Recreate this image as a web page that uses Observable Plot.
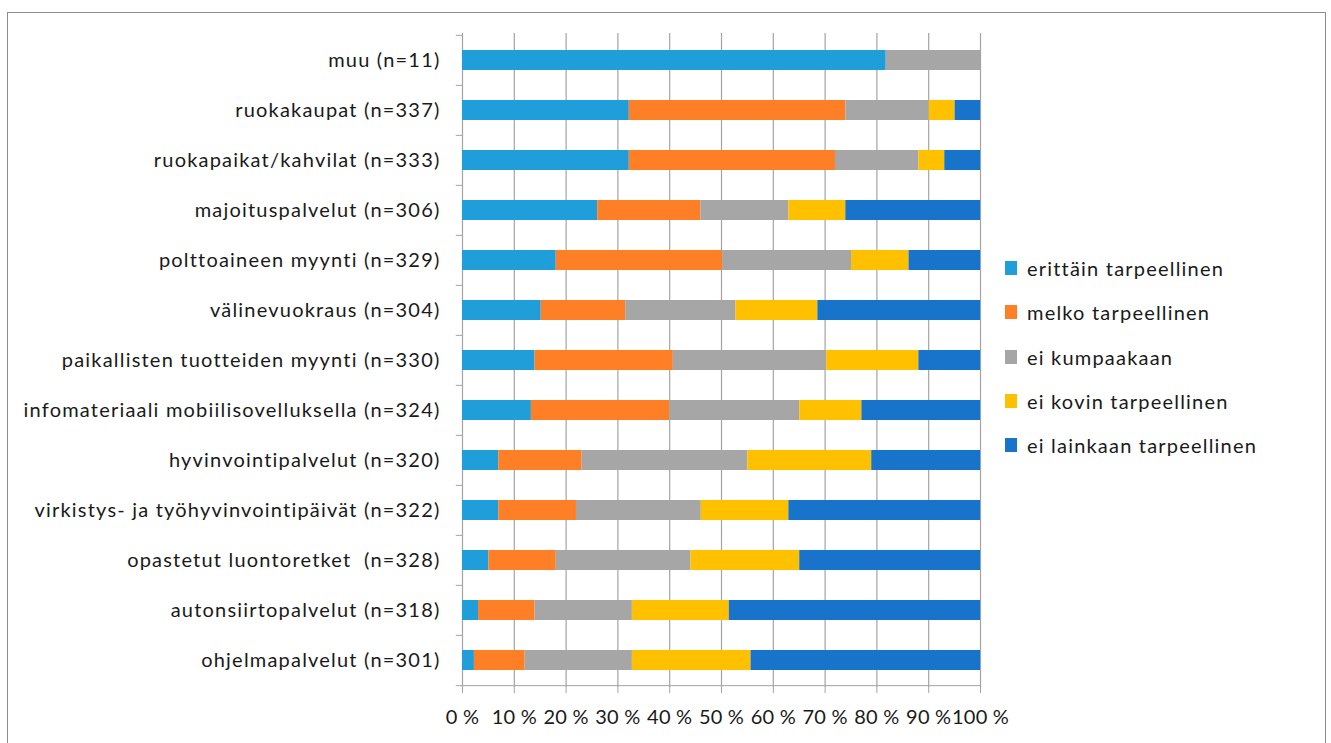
<!DOCTYPE html>
<html>
<head>
<meta charset="utf-8">
<script src="https://cdn.jsdelivr.net/npm/d3@7"></script>
<script src="https://cdn.jsdelivr.net/npm/@observablehq/plot@0.6"></script>
<style>
  html, body { margin: 0; padding: 0; background: #fff; }
  body { width: 1331px; height: 743px; position: relative; overflow: hidden; font-family: Lato, "Open Sans", sans-serif; }
  #frame { position: absolute; left: 7px; top: 12px; width: 1319px; height: 760px; border: 1px solid #8c8c8c; box-sizing: border-box; }
  #chart { position: absolute; left: 0; top: 0; }
  #chart svg { letter-spacing: 1.2px; }
  #chart g[aria-label="x-axis tick label"] { letter-spacing: 0.2px; }
  #legend { position: absolute; left: 1005px; top: 246px; font-size: 20px; letter-spacing: 1.2px; color: #1a1a1a; }
  #legend .item { display: flex; align-items: center; height: 44.3px; }
  #legend .sw { width: 12px; height: 14px; margin-right: 10px; }
</style>
</head>
<body>
<div id="frame"></div>
<div id="chart"></div>
<div id="legend"></div>
<script>
const categories = [
  "muu (n=11)",
  "ruokakaupat (n=337)",
  "ruokapaikat/kahvilat (n=333)",
  "majoituspalvelut (n=306)",
  "polttoaineen myynti (n=329)",
  "välinevuokraus (n=304)",
  "paikallisten tuotteiden myynti (n=330)",
  "infomateriaali mobiilisovelluksella (n=324)",
  "hyvinvointipalvelut (n=320)",
  "virkistys- ja työhyvinvointipäivät (n=322)",
  "opastetut luontoretket  (n=328)",
  "autonsiirtopalvelut (n=318)",
  "ohjelmapalvelut (n=301)"
];
const responses = [
  "erittäin tarpeellinen",
  "melko tarpeellinen",
  "ei kumpaakaan",
  "ei kovin tarpeellinen",
  "ei lainkaan tarpeellinen"
];
const colors = ["#1F9ED9", "#FE7F26", "#A6A6A6", "#FFC000", "#1874CA"];
// percentages per category, in order of responses
const erittain = [81.8, 32.2, 32.2, 26.1, 18.1, 15.2, 14.0, 13.3, 7.0, 7.0, 5.1, 3.1, 2.3];
const melko    = [0,    41.8, 39.8, 19.9, 32.1, 16.3, 26.7, 26.7, 16.1, 15.0, 13.0, 10.9, 9.8];
const eiKumpaa = [18.2, 16.1, 16.1, 17.0, 24.9, 21.3, 29.6, 25.1, 32.0, 24.1, 26.0, 18.8, 20.7];
const eiKovin  = [0,    5.0,  5.0,  11.0, 11.1, 15.8, 17.8, 12.0, 23.9, 16.9, 21.0, 18.7, 22.9];
const eiLaink  = [0,    4.9,  6.9,  26.0, 13.8, 31.4, 11.9, 22.9, 21.0, 37.0, 34.9, 48.5, 44.3];
const xTicks = [0, 10, 20, 30, 40, 50, 60, 70, 80, 90, 100];

const series = [erittain, melko, eiKumpaa, eiKovin, eiLaink];
const rows = [];
categories.forEach((c, i) => {
  responses.forEach((r, j) => rows.push({category: c, response: r, value: series[j][i]}));
});

const W = 1331, H = 743, mt = 33, mb = 56, ml = 462, mr = 351;
const step = (H - mt - mb) / categories.length;
const gridColor = "#a3a3a3";

const chart = Plot.plot({
  width: W,
  height: H,
  marginTop: mt,
  marginBottom: mb,
  marginLeft: ml,
  marginRight: mr,
  style: {fontFamily: "Lato, 'Open Sans', sans-serif", fontSize: "20px", color: "#1a1a1a", background: "transparent"},
  x: {domain: [0, 100], ticks: xTicks, tickFormat: d => d + " %", label: null},
  y: {domain: categories, paddingInner: 0.6, paddingOuter: 0.3, label: null},
  color: {domain: responses, range: colors},
  marks: [
    Plot.ruleX(xTicks, {stroke: gridColor, strokeWidth: 1.2}),
    Plot.barX(rows, Plot.stackX({x: "value", y: "category", fill: "response", order: responses})),
    Plot.ruleY(categories, {y: d => d, dy: -step / 2, x1: -1.2, x2: 0, stroke: gridColor}),
    Plot.ruleY([categories[categories.length - 1]], {y: d => d, dy: step / 2, x1: -1.2, x2: 100, stroke: gridColor}),
    Plot.axisX({ticks: xTicks, tickFormat: d => d + " %", tickSize: 6, tickPadding: 16, stroke: gridColor, fill: "#1a1a1a", label: null}),
    Plot.axisY({tickSize: 0, tickPadding: 22, fill: "#1a1a1a", label: null})
  ]
});
document.getElementById("chart").appendChild(chart);

const legend = document.getElementById("legend");
responses.forEach((r, i) => {
  const item = document.createElement("div");
  item.className = "item";
  const sw = document.createElement("span");
  sw.className = "sw";
  sw.style.background = colors[i];
  const tx = document.createElement("span");
  tx.textContent = r;
  item.appendChild(sw);
  item.appendChild(tx);
  legend.appendChild(item);
});
</script>
</body>
</html>
